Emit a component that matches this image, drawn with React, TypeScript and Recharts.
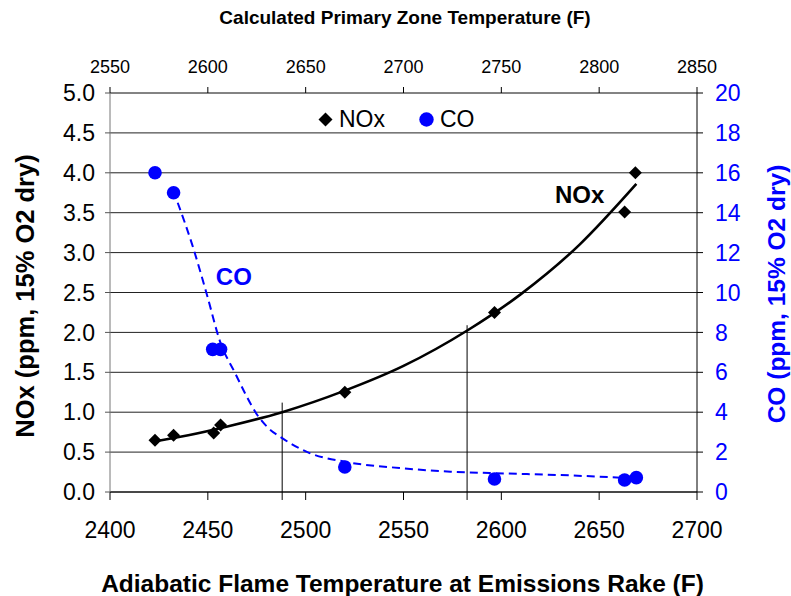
import React from 'react';
import {
  ComposedChart,
  Line,
  Scatter,
  XAxis,
  YAxis,
  CartesianGrid,
  Legend,
  ReferenceLine,
  ReferenceDot,
  Label,
} from 'recharts';

const FONT = '"Liberation Sans", Arial, Helvetica, sans-serif';
const BLUE = '#0000FF';

// measured points
const noxX = [2423, 2432.5, 2453, 2456.5, 2520, 2596.5, 2663, 2668.5];
const noxY = [0.65, 0.71, 0.74, 0.84, 1.25, 2.25, 3.51, 4.0];
const coX = [2423, 2432.5, 2452.5, 2456.5, 2520, 2596.5, 2663, 2669];
const coY = [16.0, 15.0, 7.15, 7.15, 1.25, 0.65, 0.6, 0.72];

// trend curves
const noxFitX = [2422, 2440, 2460, 2488, 2520, 2550, 2583, 2610, 2640, 2669];
const noxFitY = [0.63, 0.71, 0.82, 1.0, 1.27, 1.58, 2.03, 2.48, 3.1, 3.86];
const coFitX = [2434.6, 2442, 2449.5, 2456.4, 2464, 2469, 2475, 2481, 2488, 2502, 2520, 2548, 2574, 2594, 2630, 2661];
const coFitY = [14.5, 12.4, 9.9, 7.5, 5.95, 4.95, 3.9, 3.2, 2.7, 1.95, 1.52, 1.2, 1.02, 0.95, 0.85, 0.72];

// vertical marker lines
const markX = [2488, 2582.5];
const markTop = [1.12, 2.09];

// ticks
const bottomTicks = [2400, 2450, 2500, 2550, 2600, 2650, 2700];
const topTicks = [2550, 2600, 2650, 2700, 2750, 2800, 2850];
const leftTicks = [0, 0.5, 1, 1.5, 2, 2.5, 3, 3.5, 4, 4.5, 5];
const leftMinor = [0.25, 0.75, 1.25, 1.75, 2.25, 2.75, 3.25, 3.75, 4.25, 4.75];
const rightTicks = [0, 2, 4, 6, 8, 10, 12, 14, 16, 18, 20];
const rightMinor = [1, 3, 5, 7, 9, 11, 13, 15, 17, 19];

const legendItems = [
  { name: 'NOx', color: '#000' },
  { name: 'CO', color: BLUE },
];

const pts = (xs: number[], ys: number[]) => xs.map((x, i) => ({ x, y: ys[i] }));

const noxData = pts(noxX, noxY);
const coData = pts(coX, coY);
const noxFit = pts(noxFitX, noxFitY);
const coFit = pts(coFitX, coFitY);

// empty carriers so the extra axes get registered
const topCarrier = topTicks.map((x) => ({ x }));
const leftMinorCarrier = leftMinor.map((y) => ({ y }));
const rightMinorCarrier = rightMinor.map((y) => ({ y }));

const Diamond = (props: any) => {
  const { cx, cy } = props;
  const s = 6.5;
  return <polygon points={`${cx},${cy - s} ${cx + s},${cy} ${cx},${cy + s} ${cx - s},${cy}`} fill="#000" />;
};

const Dot = (props: any) => <circle cx={props.cx} cy={props.cy} r={6.8} fill={BLUE} />;

const LegendBox = () => (
  <div style={{ display: 'flex', alignItems: 'center', fontFamily: FONT, fontSize: 23, lineHeight: '26px', color: '#000' }}>
    {legendItems.map((it, i) => (
      <div key={it.name} style={{ display: 'flex', alignItems: 'center', marginRight: i === 0 ? 34 : 0 }}>
        <svg width={15} height={15} style={{ marginRight: 6 }}>
          {i === 0 ? (
            <polygon points="7.5,0.5 14.5,7.5 7.5,14.5 0.5,7.5" fill={it.color} />
          ) : (
            <circle cx={7.5} cy={7.5} r={7.2} fill={it.color} />
          )}
        </svg>
        <span>{it.name}</span>
      </div>
    ))}
  </div>
);

const NoTick = () => '';

const hidden = {
  stroke: 'none',
  dot: false,
  activeDot: false,
  legendType: 'none' as const,
  isAnimationActive: false,
};

const App: React.FC = () => {
  return (
    <div style={{ position: 'absolute', left: 0, top: 0, fontFamily: FONT, background: '#fff' }}>
      <ComposedChart width={791} height={596} margin={{ top: 0, right: 0, bottom: 0, left: 0 }}>
        <CartesianGrid xAxisId="bottom" yAxisId="left" vertical={false} stroke="#222" />

        <XAxis
          xAxisId="bottom"
          dataKey="x"
          type="number"
          orientation="bottom"
          domain={[2400, 2700]}
          allowDataOverflow
          ticks={bottomTicks}
          interval={0}
          height={104}
          stroke="#000"
          tickSize={8}
          tickMargin={22}
          tick={{ fill: '#000', fontSize: 23 }}
        >
          <Label
            content={({ viewBox }: any) => (
              <text x={viewBox.x + viewBox.width / 2 - 1} y={viewBox.y + 100} textAnchor="middle" fontSize={24.5} fontWeight="bold" fill="#000">
                Adiabatic Flame Temperature at Emissions Rake (F)
              </text>
            )}
          />
        </XAxis>
        <XAxis
          xAxisId="top"
          dataKey="x"
          type="number"
          orientation="top"
          domain={[2550, 2850]}
          allowDataOverflow
          ticks={topTicks}
          interval={0}
          height={93}
          stroke="#777"
          tickLine={{ stroke: '#000' }}
          tickSize={6}
          tickMargin={14}
          tick={{ fill: '#000', fontSize: 18 }}
        >
          <Label
            content={({ viewBox }: any) => (
              <text x={viewBox.x + viewBox.width / 2 + 1.5} y={24} textAnchor="middle" fontSize={19} fontWeight="bold" fill="#000">
                Calculated Primary Zone Temperature (F)
              </text>
            )}
          />
        </XAxis>

        <YAxis
          yAxisId="leftMinor"
          orientation="left"
          type="number"
          domain={[0, 5]}
          allowDataOverflow
          ticks={leftMinor}
          interval={0}
          width={0}
          axisLine={false}
          tickLine={{ stroke: '#555' }}
          tickSize={5}
          tickFormatter={NoTick}
        />
        <YAxis
          yAxisId="rightMinor"
          orientation="right"
          type="number"
          domain={[0, 20]}
          allowDataOverflow
          ticks={rightMinor}
          interval={0}
          width={0}
          axisLine={false}
          tickLine={{ stroke: '#000' }}
          tickSize={6}
          tickFormatter={NoTick}
        />
        <YAxis
          yAxisId="left"
          orientation="left"
          type="number"
          domain={[0, 5]}
          allowDataOverflow
          ticks={leftTicks}
          interval={0}
          width={110}
          stroke="#777"
          tickLine={{ stroke: '#555' }}
          tickSize={5}
          tickMargin={10}
          tick={{ fill: '#000', fontSize: 23 }}
          tickFormatter={(v: number) => v.toFixed(1)}
        >
          <Label
            content={() => (
              <text transform="translate(34, 296) rotate(-90)" textAnchor="middle" fontSize={25.5} fontWeight="bold" fill="#000">
                NOx (ppm, 15% O2 dry)
              </text>
            )}
          />
        </YAxis>
        <YAxis
          yAxisId="right"
          orientation="right"
          type="number"
          domain={[0, 20]}
          allowDataOverflow
          ticks={rightTicks}
          interval={0}
          width={94}
          stroke="#000"
          tickSize={6}
          tickMargin={12}
          tick={{ fill: BLUE, fontSize: 23 }}
        >
          <Label
            content={() => (
              <text transform="translate(785, 294) rotate(-90)" textAnchor="middle" fontSize={24.5} fontWeight="bold" fill={BLUE}>
                CO (ppm, 15% O2 dry)
              </text>
            )}
          />
        </YAxis>

        <Legend
          layout="vertical"
          align="center"
          verticalAlign="middle"
          wrapperStyle={{ top: 106, left: 318, width: 'auto' }}
          content={() => <LegendBox />}
        />

        {markX.map((x, i) => (
          <ReferenceLine
            key={x}
            xAxisId="bottom"
            yAxisId="left"
            segment={[{ x, y: -0.1 }, { x, y: markTop[i] }]}
            stroke="#000"
            strokeWidth={1}
            ifOverflow="visible"
          />
        ))}

        <Line xAxisId="top" yAxisId="left" data={topCarrier} dataKey="y" {...hidden} />
        <Line xAxisId="bottom" yAxisId="leftMinor" data={leftMinorCarrier} dataKey="y" {...hidden} />
        <Line xAxisId="bottom" yAxisId="rightMinor" data={rightMinorCarrier} dataKey="y" {...hidden} />

        <Line
          xAxisId="bottom"
          yAxisId="left"
          data={noxFit}
          dataKey="y"
          type="monotone"
          stroke="#000"
          strokeWidth={2.6}
          dot={false}
          activeDot={false}
          legendType="none"
          isAnimationActive={false}
        />
        <Line
          xAxisId="bottom"
          yAxisId="right"
          data={coFit}
          dataKey="y"
          type="monotone"
          stroke={BLUE}
          strokeWidth={2}
          strokeDasharray="8 5"
          dot={false}
          activeDot={false}
          legendType="none"
          isAnimationActive={false}
        />
        <Scatter
          name="NOx"
          xAxisId="bottom"
          yAxisId="left"
          data={noxData}
          dataKey="y"
          shape={Diamond}
          isAnimationActive={false}
        />
        <Scatter
          name="CO"
          xAxisId="bottom"
          yAxisId="right"
          data={coData}
          dataKey="y"
          shape={Dot}
          isAnimationActive={false}
        />

        <ReferenceDot xAxisId="bottom" yAxisId="left" x={2640} y={3.73} r={0} fill="none" stroke="none">
          <Label
            content={({ viewBox }: any) => (
              <text x={viewBox.x + viewBox.width / 2} y={viewBox.y + viewBox.height / 2 + 8.5} textAnchor="middle" fontSize={24} fontWeight="bold" fill="#000">
                NOx
              </text>
            )}
          />
        </ReferenceDot>
        <ReferenceDot xAxisId="bottom" yAxisId="right" x={2463.3} y={10.8} r={0} fill="none" stroke="none">
          <Label
            content={({ viewBox }: any) => (
              <text x={viewBox.x + viewBox.width / 2} y={viewBox.y + viewBox.height / 2 + 8.5} textAnchor="middle" fontSize={24} fontWeight="bold" fill={BLUE}>
                CO
              </text>
            )}
          />
        </ReferenceDot>
      </ComposedChart>
    </div>
  );
};

export default App;
